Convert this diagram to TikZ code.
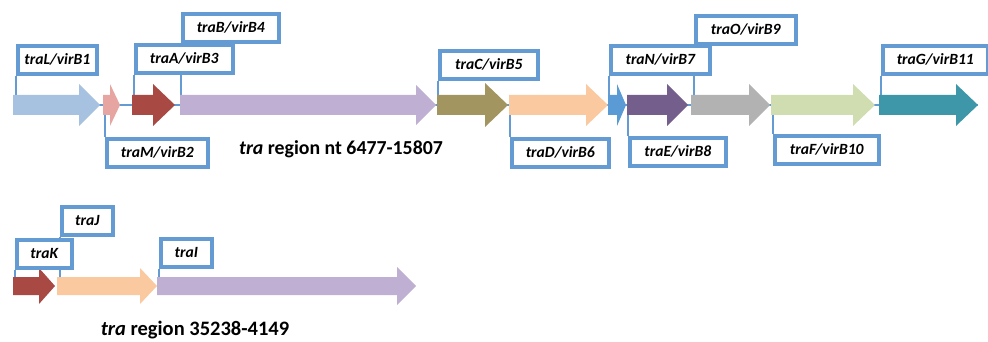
\documentclass[tikz,border=0pt]{standalone}
\usepackage{fontspec}
\setmainfont{Carlito}
\usetikzlibrary{backgrounds}
\definecolor{boxblue}{RGB}{100,155,210}
\definecolor{cLblue}{RGB}{167,194,224}
\definecolor{cPink}{RGB}{230,165,160}
\definecolor{cRed}{RGB}{168,74,67}
\definecolor{cLav}{RGB}{191,176,211}
\definecolor{cOlive}{RGB}{163,149,96}
\definecolor{cPeach}{RGB}{250,201,160}
\definecolor{cBlue}{RGB}{91,155,213}
\definecolor{cPurple}{RGB}{115,94,140}
\definecolor{cGray}{RGB}{178,178,178}
\definecolor{cGreen}{RGB}{208,221,176}
\definecolor{cTeal}{RGB}{62,151,168}
\newcommand\garrow[8]{%
  \fill[#2] (#3,#6-#7) -- (#4,#6-#7) -- (#4,#6-#8) -- (#5,#6) -- (#4,#6+#8) -- (#4,#6+#7) -- (#3,#6+#7) -- cycle;
  \coordinate (#1-t) at (#3,#6-#7);
  \coordinate (#1-b) at (#3,#6+#7);
}
\begin{document}
\begin{tikzpicture}[x=1pt,y=-1pt,
  lbl/.style={draw=boxblue, line width=3.6pt, fill=white, inner sep=0pt, anchor=north west,
    minimum height=28pt, font=\fontsize{15.6}{18}\selectfont\bfseries\itshape},
  conn/.style={draw=boxblue, line width=1.5pt},
  title/.style={font=\fontsize{19.8}{22}\selectfont\bfseries, inner sep=0pt}]
\useasboundingbox (0,0) rectangle (988,342);
% row 1 arrows
\garrow{L}{cLblue}{13}{79}{100}{105}{10}{21}
\garrow{M}{cPink}{103}{110}{120}{105}{10}{21}
\garrow{A}{cRed}{132}{153}{175}{105}{10}{21}
\garrow{B}{cLav}{180}{416}{436}{105}{10}{20}
\garrow{C}{cOlive}{437}{485}{508}{105}{10}{22}
\garrow{D}{cPeach}{509}{586}{608}{105}{10}{21}
\garrow{N}{cBlue}{608}{617}{626}{105}{10}{21}
\garrow{E}{cPurple}{627}{667}{688}{105}{10}{21}
\garrow{O}{cGray}{691}{749}{770}{105}{10}{21}
\garrow{F}{cGreen}{771}{853}{875}{105}{10}{21}
\garrow{G}{cTeal}{879}{956}{978}{105}{10}{21}
% row 2 arrows
\garrow{K}{cRed}{13}{39}{55}{286}{9}{18}
\garrow{J}{cPeach}{57}{140}{157}{286}{9}{18}
\garrow{I}{cLav}{157}{397}{416}{286}{9}{19}
% label boxes
\node[lbl, minimum width=79pt]  (LB) at (16,44)  {traL/virB1};
\node[lbl, minimum width=96pt]  (BB) at (181,12) {traB/virB4};
\node[lbl, minimum width=97pt]  (AB) at (134,43) {traA/virB3};
\node[lbl, minimum width=101pt] (MB) at (105,137) {traM/virB2};
\node[lbl, minimum width=98pt]  (CB) at (438,49) {traC/virB5};
\node[lbl, minimum width=97pt]  (DB) at (510,137) {traD/virB6};
\node[lbl, minimum width=100pt] (OB) at (694,14) {traO/virB9};
\node[lbl, minimum width=99pt]  (NB) at (609,44) {traN/virB7};
\node[lbl, minimum width=96pt]  (EB) at (628,136) {traE/virB8};
\node[lbl, minimum width=104pt] (FB) at (773,134) {traF/virB10};
\node[lbl, minimum width=105pt] (GB) at (881,44) {traG/virB11};
\node[lbl, minimum width=51pt]  (JB) at (60,205) {traJ};
\node[lbl, minimum width=55pt]  (KB) at (15,238) {traK};
\node[lbl, minimum width=51pt]  (IB) at (159,237) {traI};
% titles
\node[title] (T1) at (341,149) {\textit{tra} region nt 6477-15807};
\node[title, font=\fontsize{20.5}{23}\selectfont\bfseries] (T2) at (195,330) {\textit{tra} region 35238-4149};
\begin{pgfonlayer}{background}
  \draw[conn] (L-t |- 0,105) coordinate (row1s) -- (978,105) coordinate (row1e);
  \draw[conn] (LB.south west) -- (LB.south west |- L-t);
  \draw[conn] (AB.south west) -- (AB.south west |- A-t);
  \draw[conn] (BB.south west) -- (BB.south west |- B-t);
  \draw[conn] (MB.north west) -- (MB.north west |- M-b);
  \draw[conn] (CB.south west) -- (CB.south west |- C-t);
  \draw[conn] (DB.north west) -- (DB.north west |- D-b);
  \draw[conn] (NB.south west) -- (NB.south west |- N-t);
  \draw[conn] (OB.south west) -- (OB.south west |- O-t);
  \draw[conn] (EB.north west) -- (EB.north west |- E-b);
  \draw[conn] (FB.north west) -- (FB.north west |- F-b);
  \draw[conn] (GB.south west) -- (GB.south west |- G-t);
  \draw[conn] (KB.south west) -- (KB.south west |- K-t);
  \draw[conn] (JB.south west) -- (JB.south west |- J-t);
  \draw[conn] (IB.south west) -- (IB.south west |- I-t);
\end{pgfonlayer}
\end{tikzpicture}
\end{document}
